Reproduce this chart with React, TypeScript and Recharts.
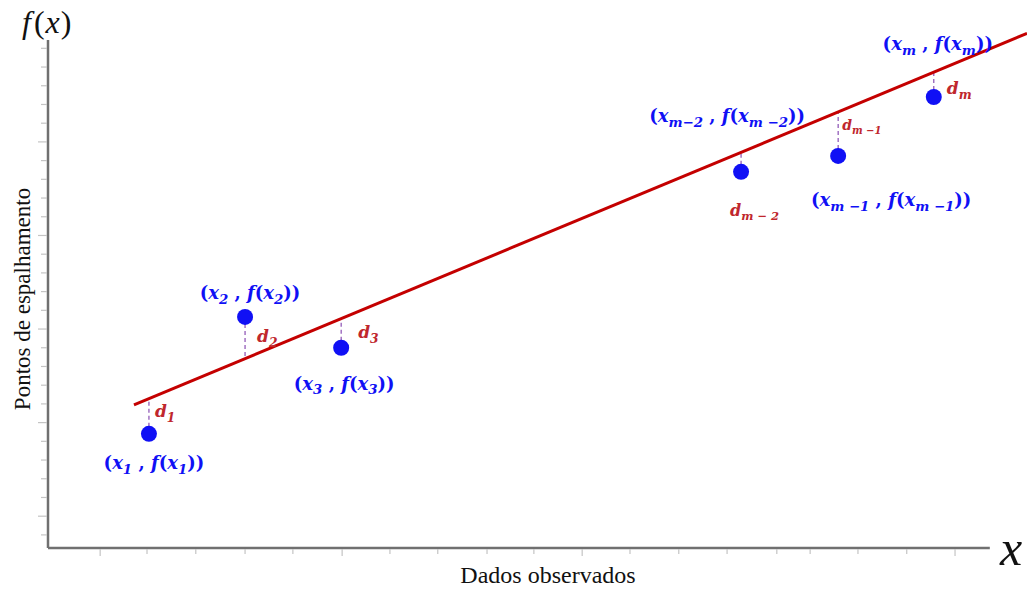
import React from 'react';
import { ComposedChart, Line, Scatter, XAxis, YAxis, ReferenceLine } from 'recharts';

const pointX = [2.09, 4.08, 6.07, 14.35, 16.36, 18.34];
const pointY = [1.22, 2.47, 2.14, 4.02, 4.19, 4.82];
const pointSub = ['1', '2', '3', 'm−2', 'm −1', 'm'];
const pointSub2 = ['1', '2', '3', 'm −2', 'm −1', 'm'];
const residualSub = ['1', '2', '3', 'm − 2', 'm −1', 'm'];

// reta ajustada (extremos)
const fitX = [1.78, 20.27];
const fitY = [1.53, 5.5];

// marcas dos eixos
const xTicks = [1.08, 2.05, 3.06, 4.08, 5.07, 6.09, 7.08, 8.07, 9.09, 10.06, 11.06, 12.05, 13.06, 14.06, 15.09, 15.78, 16.77, 17.78, 18.78];
const xMajor = [1.08, 6.09, 11.06, 18.78];
const yTicks = [0.14, 0.34, 0.54, 0.74, 0.94, 1.14, 1.34, 1.54, 1.74, 1.94, 2.14, 2.34, 2.54, 2.74, 2.94, 3.14, 3.34, 3.54, 3.74, 3.94, 4.14, 4.34, 4.54, 4.74, 4.94, 5.14, 5.34];
const yMajor = [0.34, 1.34, 2.34, 3.34, 4.34];

const xEnd = 19.5;
const yEnd = 5.43;

const points = pointX.map((x, i) => ({ x, y: pointY[i], i }));
const fitData = fitX.map((x, i) => ({ x, y: fitY[i] }));
const fit = (x: number) => fitY[0] + ((x - fitX[0]) * (fitY[1] - fitY[0])) / (fitX[1] - fitX[0]);

// deslocamentos dos rótulos em px, relativos ao ponto
const labelOffset = [[5, 35], [5, -18], [3, 42], [-14, -50], [53, 50], [4, -47]];
const residualOffset = [[6, -17], [12, 25], [17, -10], [-11, 44], [4, -26], [13, -3]];
const residualSize = [17, 17, 17, 16, 14, 17];

const BLUE = '#1010f5';
const RED = '#c0272d';
const MATH_FONT = '"DejaVu Serif", serif';
const SERIF = '"Liberation Serif", "Times New Roman", serif';

const mathLabel = (sub: string, sub2: string, fs: number) => {
  const s = fs * 0.74;
  const d = fs * 0.26;
  return [
    <tspan key="a">(</tspan>,
    <tspan key="b" fontStyle="italic">x</tspan>,
    <tspan key="c" dy={d} fontSize={s} fontStyle="italic">{sub}</tspan>,
    <tspan key="d" dy={-d}> , </tspan>,
    <tspan key="e" fontStyle="italic">f</tspan>,
    <tspan key="f">(</tspan>,
    <tspan key="g" fontStyle="italic">x</tspan>,
    <tspan key="h" dy={d} fontSize={s} fontStyle="italic">{sub2}</tspan>,
    <tspan key="i" dy={-d}>))</tspan>,
  ];
};

const PointShape = (props: any) => {
  const { cx, cy, payload } = props;
  const i = payload.i;
  const [lx, ly] = labelOffset[i];
  const [rx, ry] = residualOffset[i];
  const rs = residualSize[i];
  return (
    <g>
      <circle cx={cx} cy={cy} r={8} fill={BLUE} />
      <text x={cx + lx} y={cy + ly} textAnchor="middle" fill={BLUE} fontFamily={MATH_FONT} fontWeight="bold" fontSize={18}>
        {mathLabel(pointSub[i], pointSub2[i], 18)}
      </text>
      <text x={cx + rx} y={cy + ry} fill={RED} fontFamily={MATH_FONT} fontWeight="bold" fontSize={rs}>
        <tspan fontStyle="italic">d</tspan>
        <tspan dy={rs * 0.28} fontSize={rs * 0.72} fontStyle="italic">{residualSub[i]}</tspan>
      </text>
    </g>
  );
};

const XTick = (props: any) => {
  const { x, y, payload } = props;
  const len = xMajor.includes(payload.value) ? 7 : 5;
  return <line x1={x} x2={x} y1={y + 1} y2={y + 1 + len} stroke="#c4c4c4" strokeWidth={1.2} />;
};

const YTick = (props: any) => {
  const { x, y, payload } = props;
  const len = yMajor.includes(payload.value) ? 9 : 6;
  return <line x1={x - 1 - len} x2={x - 1} y1={y} y2={y} stroke="#c4c4c4" strokeWidth={1.2} />;
};

export default function App() {
  return (
    <div style={{ position: 'absolute', left: 0, top: 0, width: 1027, height: 590, background: '#fff' }}>
      <ComposedChart width={1027} height={590} margin={{ top: 24, right: 0, bottom: 30, left: 38 }}>
        <XAxis
          type="number"
          dataKey="x"
          domain={[0, fitX[1]]}
          ticks={xTicks}
          tick={<XTick />}
          tickLine={false}
          axisLine={false}
          tickSize={0}
          tickMargin={0}
          height={12}
          interval={0}
        />
        <YAxis
          type="number"
          dataKey="y"
          domain={[0, 5.6]}
          ticks={yTicks}
          tick={<YTick />}
          tickLine={false}
          axisLine={false}
          tickSize={0}
          tickMargin={0}
          width={10}
          interval={0}
        />
        <ReferenceLine segment={[{ x: 0, y: 0 }, { x: xEnd, y: 0 }]} stroke="#707070" strokeWidth={2.5} />
        <ReferenceLine segment={[{ x: 0, y: 0 }, { x: 0, y: yEnd }]} stroke="#707070" strokeWidth={2.5} />
        {points.map((p) => (
          <ReferenceLine
            key={p.i}
            segment={[{ x: p.x, y: p.y }, { x: p.x, y: fit(p.x) }]}
            stroke="#8a4fb3"
            strokeWidth={1.2}
            strokeDasharray="4 3"
          />
        ))}
        <Line data={fitData} dataKey="y" stroke="#c40000" strokeWidth={3} dot={false} isAnimationActive={false} />
        <Scatter data={points} dataKey="y" shape={<PointShape />} isAnimationActive={false} />
        <text x={22} y={33} fontFamily={SERIF} fontSize={32} fill="#111">
          <tspan fontStyle="italic">f</tspan>
          <tspan dx={3}>(</tspan>
          <tspan fontStyle="italic" dx={1}>x</tspan>
          <tspan dx={1}>)</tspan>
        </text>
        <text x={1000} y={565} fontFamily={SERIF} fontStyle="italic" fontSize={50} fill="#111">
          x
        </text>
        <text x={548} y={583} textAnchor="middle" fontFamily={SERIF} fontSize={24} fill="#111">
          Dados observados
        </text>
        <text
          x={30}
          y={299}
          textAnchor="middle"
          transform="rotate(-90 30 299)"
          fontFamily={SERIF}
          fontSize={23}
          fill="#111"
        >
          Pontos de espalhamento
        </text>
      </ComposedChart>
    </div>
  );
}
